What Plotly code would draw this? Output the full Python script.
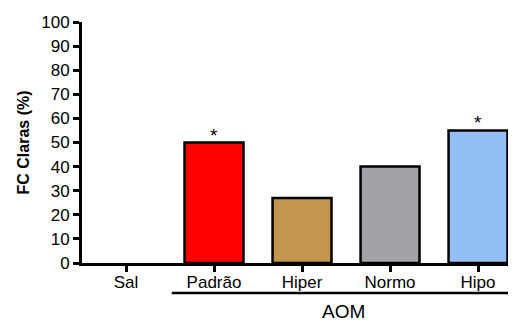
import plotly.graph_objects as go

categories = ["Sal", "Padrão", "Hiper", "Normo", "Hipo"]
values = [0, 50, 27, 40, 55]
colors = ["#FFFFFF", "#FF0000", "#C4954F", "#A3A2A6", "#93BFF5"]
stars = ["", "*", "", "", "*"]
yticks = [0, 10, 20, 30, 40, 50, 60, 70, 80, 90, 100]

FONT = "Liberation Sans, Arial, Helvetica"
xs = list(range(len(categories)))
fig = go.Figure()
fig.add_trace(go.Bar(
    x=xs, y=values, width=0.67,
    marker=dict(color=colors,
                line=dict(color="black", width=[0 if v == 0 else 2.5 for v in values])),
    showlegend=False,
))
for x, v, s in zip(xs, values, stars):
    if s:
        fig.add_annotation(x=x, y=v, text=s, showarrow=False, yanchor="bottom", yshift=-5,
                           font=dict(size=19, color="black", family=FONT))

fig.add_shape(type="line", xref="x", yref="paper", x0=0.52, x1=4.42, y0=-0.124, y1=-0.124,
              line=dict(color="black", width=2.5))
fig.add_annotation(xref="x", yref="paper", x=2.47, y=-0.201, text="AOM", showarrow=False,
                   yanchor="middle", font=dict(size=19, color="black", family=FONT))

fig.update_layout(
    width=508, height=313,
    margin=dict(l=74, r=1, t=14, b=58),
    plot_bgcolor="white", paper_bgcolor="white",
    font=dict(family=FONT, color="black", size=17),
)
fig.update_xaxes(
    range=[-0.5, 4.42], tickvals=xs, ticktext=categories,
    showline=True, linecolor="black", linewidth=3,
    ticks="outside", ticklen=6, tickwidth=2.5, tickcolor="black",
    showgrid=False, zeroline=False, tickfont=dict(size=17),
    ticklabelstandoff=-4,
)
fig.update_yaxes(
    range=[0, 100], tickvals=yticks,
    showline=True, linecolor="black", linewidth=3,
    ticks="outside", ticklen=6, tickwidth=2.5, tickcolor="black",
    showgrid=False, zeroline=False, tickfont=dict(size=17),
    title=dict(text="<b>FC Claras (%)</b>", font=dict(size=16), standoff=8),
)
fig.write_html("out.html")
